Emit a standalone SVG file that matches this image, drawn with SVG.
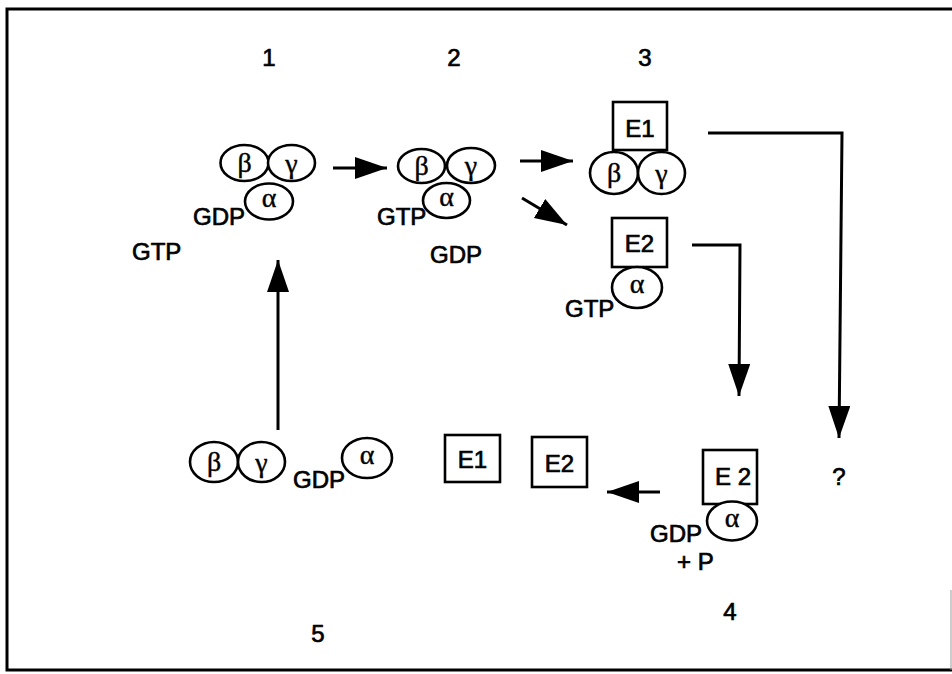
<svg xmlns="http://www.w3.org/2000/svg" width="952" height="674" viewBox="0 0 952 674">
<defs>
<style>
.t{font-family:"Liberation Sans",Arial,sans-serif;font-size:24px;fill:#000;stroke:#000;stroke-width:0.7}
.g{font-family:"Liberation Serif","Times New Roman",serif;font-size:28px;fill:#000;text-anchor:middle;stroke:#000;stroke-width:0.4}
.e{fill:#fff;stroke:#000;stroke-width:2.6}
.b{fill:#fff;stroke:#000;stroke-width:2.6}
.c{fill:none;stroke:#000;stroke-width:3}
.m{text-anchor:middle}
</style>
<marker id="ah" markerUnits="userSpaceOnUse" markerWidth="34" markerHeight="24" refX="32" refY="11" orient="auto">
<path d="M0,0 L32,11 L0,22 z" fill="#000"/>
</marker>
</defs>
<rect width="952" height="674" fill="#fff"/>
<g id="frame">
<path d="M952,9 L7,9 L7,670 L952,670" fill="none" stroke="#000" stroke-width="3"/>
<line x1="951" y1="590" x2="951" y2="670" stroke="#999" stroke-width="1"/>
</g>
<g id="labels">
<text class="t m" x="269" y="66">1</text>
<text class="t m" x="454" y="66">2</text>
<text class="t m" x="645" y="66">3</text>
<text class="t m" x="730" y="620">4</text>
<text class="t m" x="318" y="642">5</text>
<text class="t m" x="839" y="485">?</text>
</g>
<g id="connectors">
<line class="c" x1="333" y1="168" x2="387" y2="168" marker-end="url(#ah)"/>
<line class="c" x1="520" y1="161" x2="573" y2="161" marker-end="url(#ah)"/>
<line class="c" x1="522" y1="198" x2="567" y2="225" marker-end="url(#ah)"/>
<path class="c" d="M708,133 L842,133 L839,438" marker-end="url(#ah)"/>
<path class="c" d="M692,245 L740,245 L739,396" marker-end="url(#ah)"/>
<line class="c" x1="660" y1="492" x2="607" y2="492" marker-end="url(#ah)"/>
<line class="c" x1="278" y1="430" x2="278" y2="260" marker-end="url(#ah)"/>
</g>
<g id="stage1">
<ellipse class="e" cx="244.5" cy="163" rx="24" ry="18"/>
<ellipse class="e" cx="291.5" cy="163" rx="23.5" ry="18"/>
<ellipse class="e" cx="269" cy="201.5" rx="24" ry="18"/>
<text class="g" x="244.5" y="172">β</text>
<text class="g" x="291.5" y="173">γ</text>
<text class="g" x="269" y="207">α</text>
<text class="t" x="193" y="225">GDP</text>
<text class="t" x="132" y="260">GTP</text>
</g>
<g id="stage2">
<ellipse class="e" cx="421.5" cy="166" rx="23.5" ry="17"/>
<ellipse class="e" cx="471" cy="165.5" rx="24" ry="17.5"/>
<ellipse class="e" cx="446.5" cy="200.5" rx="23.5" ry="17.5"/>
<text class="g" x="421.5" y="175">β</text>
<text class="g" x="471" y="175">γ</text>
<text class="g" x="446.5" y="206">α</text>
<text class="t" x="377" y="225">GTP</text>
<text class="t" x="430" y="263">GDP</text>
</g>
<g id="stage3-E1">
<rect class="b" x="613" y="102" width="54" height="48"/>
<text class="t m" x="640" y="137">E1</text>
<ellipse class="e" cx="614" cy="173" rx="24" ry="21"/>
<ellipse class="e" cx="661.5" cy="173" rx="23.5" ry="21"/>
<text class="g" x="614" y="182">β</text>
<text class="g" x="661.5" y="183">γ</text>
</g>
<g id="stage3-E2">
<rect class="b" x="612" y="218" width="55" height="49"/>
<text class="t m" x="639.5" y="252">E2</text>
<ellipse class="e" cx="637" cy="287.5" rx="25" ry="20.5"/>
<text class="g" x="637" y="293">α</text>
<text class="t" x="565" y="317">GTP</text>
</g>
<g id="stage4">
<rect class="b" x="703" y="450" width="54" height="54"/>
<text class="t m" x="733" y="485">E 2</text>
<ellipse class="e" cx="732" cy="521" rx="25" ry="19.5"/>
<text class="g" x="732" y="527">α</text>
<text class="t" x="650" y="542">GDP</text>
<text class="t" x="677" y="570">+ P</text>
</g>
<g id="stage5">
<ellipse class="e" cx="214" cy="462" rx="24" ry="20"/>
<ellipse class="e" cx="261.5" cy="462" rx="23.5" ry="20"/>
<ellipse class="e" cx="367" cy="458" rx="25" ry="20"/>
<text class="g" x="214" y="471">β</text>
<text class="g" x="261.5" y="472">γ</text>
<text class="g" x="367" y="464">α</text>
<text class="t" x="293" y="488">GDP</text>
<rect class="b" x="445" y="435" width="55" height="47"/>
<text class="t m" x="472.5" y="468">E1</text>
<rect class="b" x="532" y="437" width="55" height="50"/>
<text class="t m" x="559.5" y="472">E2</text>
</g>
</svg>
